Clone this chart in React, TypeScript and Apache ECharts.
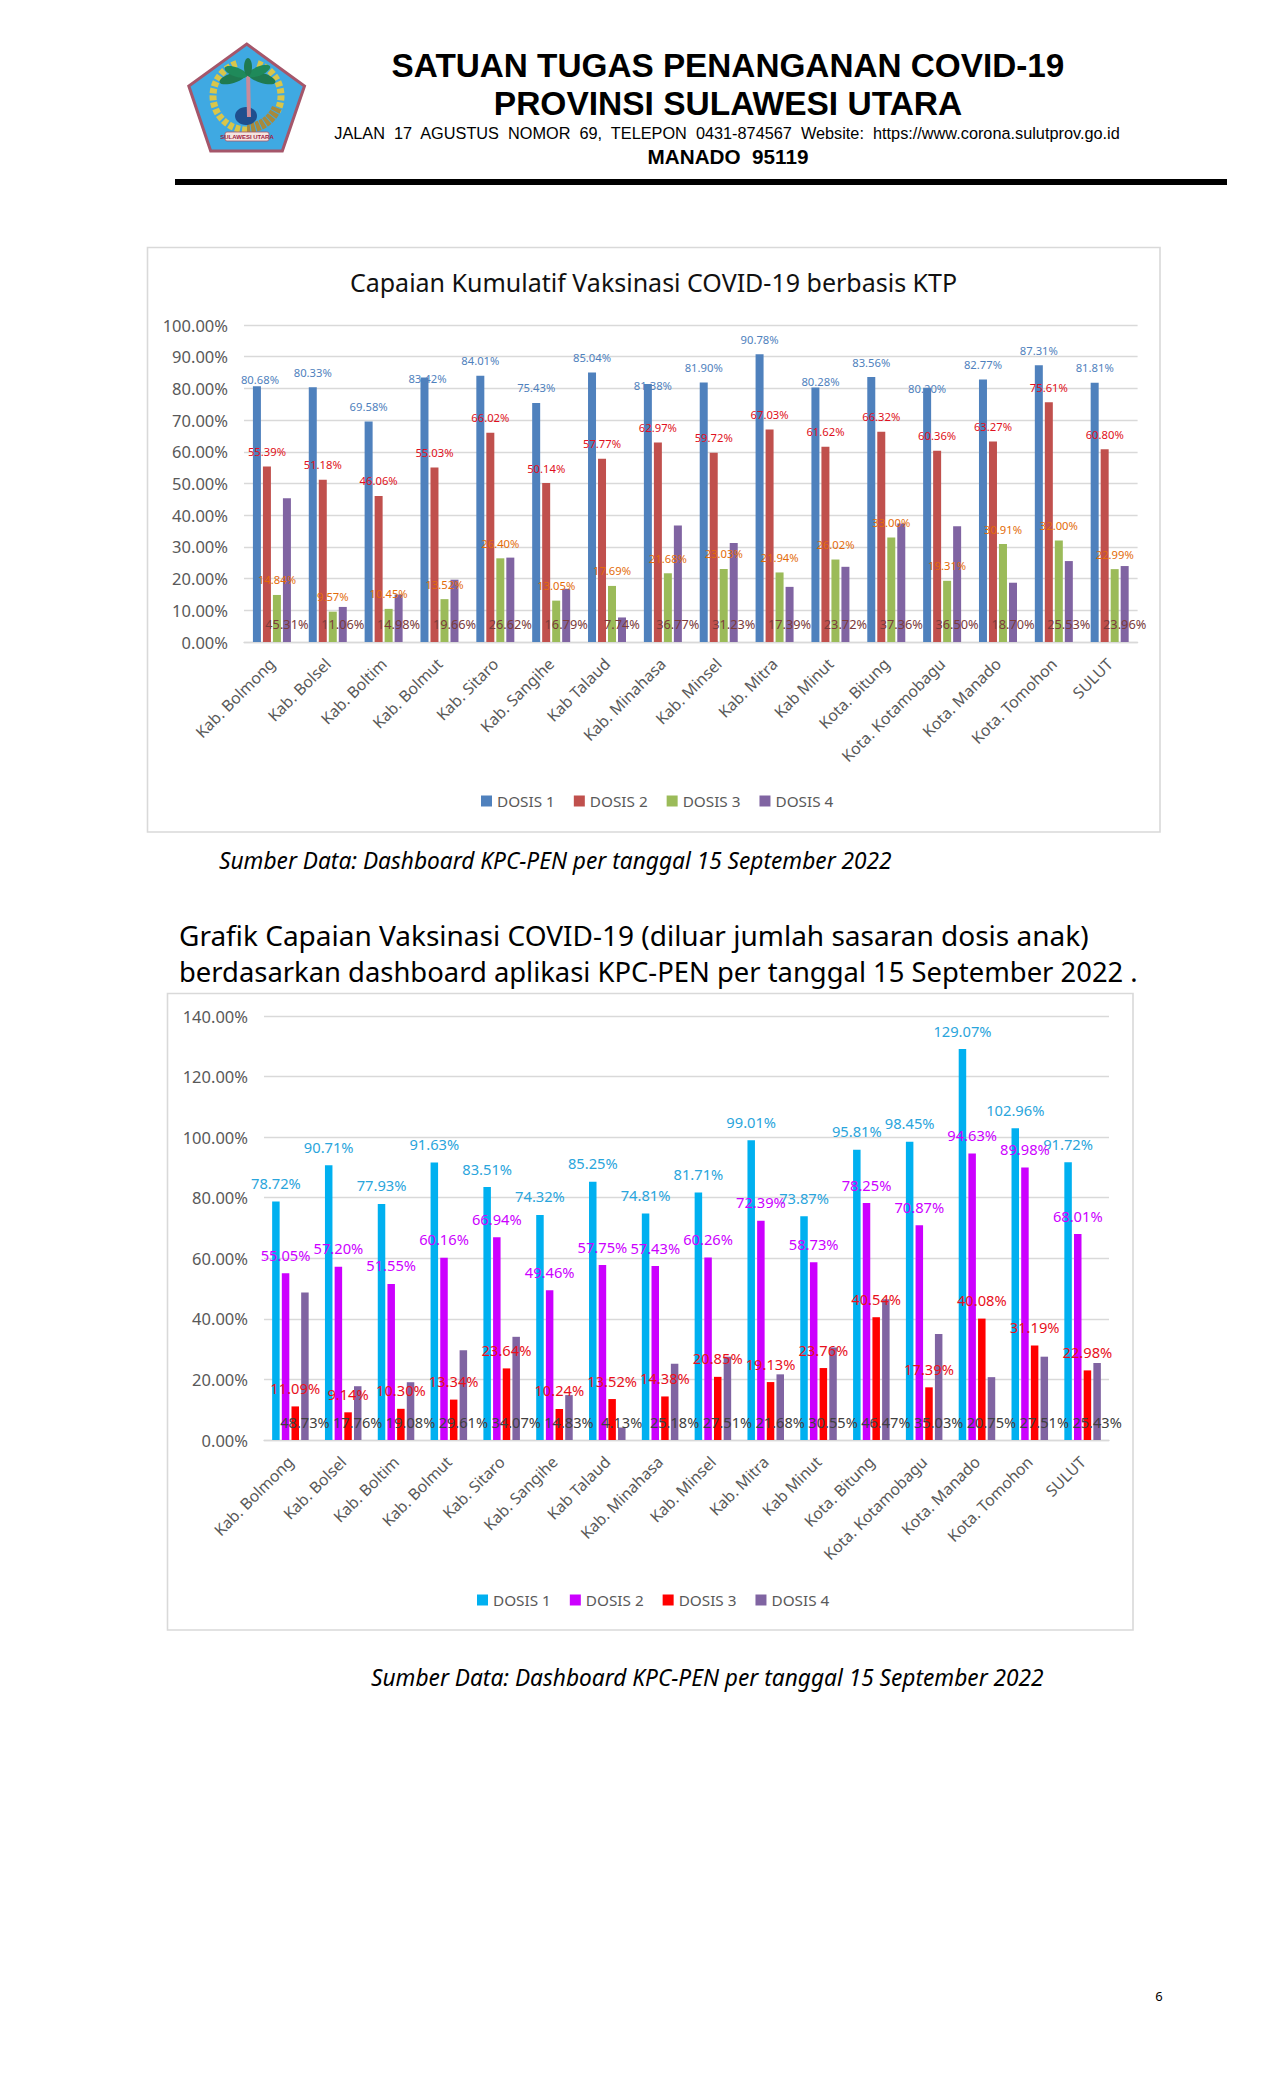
import React, { useEffect, useRef } from "react";
import * as echarts from "echarts";

const categories = ["Kab. Bolmong", "Kab. Bolsel", "Kab. Boltim", "Kab. Bolmut", "Kab. Sitaro", "Kab. Sangihe", "Kab Talaud", "Kab. Minahasa", "Kab. Minsel", "Kab. Mitra", "Kab Minut", "Kota. Bitung", "Kota. Kotamobagu", "Kota. Manado", "Kota. Tomohon", "SULUT"];
const seriesNames = ["DOSIS 1", "DOSIS 2", "DOSIS 3", "DOSIS 4"];

const ktpDosis1 = [80.68, 80.33, 69.58, 83.42, 84.01, 75.43, 85.04, 81.38, 81.90, 90.78, 80.28, 83.56, 80.20, 82.77, 87.31, 81.81];
const ktpDosis2 = [55.39, 51.18, 46.06, 55.03, 66.02, 50.14, 57.77, 62.97, 59.72, 67.03, 61.62, 66.32, 60.36, 63.27, 75.61, 60.80];
const ktpDosis3 = [14.84, 9.57, 10.45, 13.52, 26.40, 13.05, 17.69, 21.68, 23.03, 21.94, 26.02, 33.00, 19.31, 30.91, 32.00, 22.99];
const ktpDosis4 = [45.31, 11.06, 14.98, 19.66, 26.62, 16.79, 7.74, 36.77, 31.23, 17.39, 23.72, 37.36, 36.50, 18.70, 25.53, 23.96];

const kpcDosis1 = [78.72, 90.71, 77.93, 91.63, 83.51, 74.32, 85.25, 74.81, 81.71, 99.01, 73.87, 95.81, 98.45, 129.07, 102.96, 91.72];
const kpcDosis2 = [55.05, 57.20, 51.55, 60.16, 66.94, 49.46, 57.75, 57.43, 60.26, 72.39, 58.73, 78.25, 70.87, 94.63, 89.98, 68.01];
const kpcDosis3 = [11.09, 9.14, 10.30, 13.34, 23.64, 10.24, 13.52, 14.38, 20.85, 19.13, 23.76, 40.54, 17.39, 40.08, 31.19, 22.98];
const kpcDosis4 = [48.73, 17.76, 19.08, 29.61, 34.07, 14.83, 4.13, 25.18, 27.51, 21.68, 30.55, 46.47, 35.03, 20.75, 27.51, 25.43];

const FONT = '"Noto Sans", sans-serif';
const GRID = "#D9D9D9";
const AXIS_TEXT = "#595959";
const pct = (v: number) => v.toFixed(2) + "%";

// Hand-moved data labels of the first chart's DOSIS 1 series: index -> [dx, dy]
const ktpD1LabelShift: Record<number, number[]> = { 0: [3, 8], 3: [3, 16], 7: [5, 16], 10: [5, 9], 12: [0, 16] };

function barSeries(name: string, values: number[], color: string, labelColor: string, fontSize: number, axis: number, barWidth: number, barGap: string, position: string, distance: number, shift: Record<number, number[]> = {}) {
  return {
    type: "bar",
    name,
    xAxisIndex: axis,
    yAxisIndex: axis,
    barWidth,
    barGap,
    itemStyle: { color },
    data: values.map((value, i) => (shift[i] ? { value, label: { offset: shift[i] } } : { value })),
    label: {
      show: true,
      position,
      distance,
      color: labelColor,
      fontSize,
      fontFamily: FONT,
      textBorderWidth: 0,
      formatter: (p: any) => pct(p.value),
    },
  };
}

const xAxis = (gridIndex: number) => ({
  type: "category",
  gridIndex,
  data: categories,
  axisLine: { lineStyle: { color: GRID, width: 1.4 } },
  axisTick: { show: false },
  axisLabel: { rotate: 45, interval: 0, color: AXIS_TEXT, fontSize: 15.8, fontFamily: FONT, margin: 19 },
});

const yAxis = (gridIndex: number, max: number, interval: number) => ({
  type: "value",
  gridIndex,
  min: 0,
  max,
  interval,
  axisLine: { show: false },
  axisTick: { show: false },
  splitLine: { lineStyle: { color: GRID, width: 1.4 } },
  axisLabel: { color: AXIS_TEXT, fontSize: 16.5, fontFamily: FONT, margin: 16, formatter: pct },
});

const legend = (left: number, top: number, colors: string[]) => ({
  left,
  top,
  padding: 0,
  icon: "rect",
  itemWidth: 11,
  itemHeight: 11,
  itemGap: 19,
  selectedMode: false,
  textStyle: { color: AXIS_TEXT, fontSize: 15.3, fontFamily: FONT },
  data: seriesNames.map((name, i) => ({ name, itemStyle: { color: colors[i] } })),
});

const text = (x: number, y: number, t: string, font: any, align = "left") => ({
  type: "text",
  x,
  y,
  silent: true,
  style: { text: t, textAlign: align, textVerticalAlign: "middle", fill: "#000", fontFamily: FONT, ...font },
});

function logo() {
  const stroke = (s: any) => ({ fill: "none", ...s });
  const frond = (x: number, y: number, rx: number, ry: number, rotation: number, fill: string) => ({
    type: "ellipse", x, y, rotation, shape: { cx: 0, cy: 0, rx, ry }, style: { fill }, silent: true,
  });
  return [
    { type: "polygon", silent: true, shape: { points: [[246.7, 44], [304.5, 86], [282.3, 151], [210.7, 151], [188.8, 86]] }, style: { fill: "#3FA9E2", stroke: "#A5566A", lineWidth: 3 } },
    { type: "arc", silent: true, shape: { cx: 247, cy: 96, r: 34, startAngle: Math.PI * 0.5, endAngle: Math.PI * 1.42, clockwise: true }, style: stroke({ stroke: "#D9C64A", lineWidth: 7, lineDash: [5, 2] }) },
    { type: "arc", silent: true, shape: { cx: 247, cy: 96, r: 34, startAngle: -Math.PI * 0.4, endAngle: Math.PI * 0.15, clockwise: true }, style: stroke({ stroke: "#D9C64A", lineWidth: 7, lineDash: [5, 2] }) },
    { type: "arc", silent: true, shape: { cx: 247, cy: 96, r: 32, startAngle: Math.PI * 0.12, endAngle: Math.PI * 0.5, clockwise: true }, style: stroke({ stroke: "#A88A3C", lineWidth: 10, lineDash: [4, 1] }) },
    { type: "ellipse", silent: true, shape: { cx: 246, cy: 116, rx: 11, ry: 9 }, style: { fill: "#1F4F8E" } },
    { type: "line", silent: true, shape: { x1: 248, y1: 72, x2: 249, y2: 117 }, style: { stroke: "#C98A9A", lineWidth: 4 } },
    frond(233, 78, 14, 5, 0.3, "#1F7A50"),
    frond(262, 78, 14, 5, -0.3, "#1F7A50"),
    frond(236, 72, 12, 4.5, -0.35, "#1F8A5A"),
    frond(259, 71, 12, 4.5, 0.4, "#1F8A5A"),
    frond(248, 67, 4, 9, 0, "#1F7A50"),
    { type: "rect", silent: true, shape: { x: 225, y: 132, width: 44, height: 9, r: 2 }, style: { fill: "#F4E6E0", stroke: "#A5566A", lineWidth: 0.8 } },
    text(247, 136.5, "SULAWESI UTARA", { fontSize: 6, fill: "#A02040", fontWeight: "bold", fontFamily: '"Liberation Sans", sans-serif' }, "center"),
  ];
}

const ARIAL = '"Liberation Sans", sans-serif';

export default function App() {
  const ref = useRef<HTMLDivElement>(null);
  useEffect(() => {
    document.body.style.margin = "0";
    const chart = echarts.init(ref.current!, undefined, { renderer: "svg" });
    const ktpColors = ["#4F81BD", "#C0504D", "#9BBB59", "#8064A2"];
    const kpcColors = ["#00B0F0", "#CC00FF", "#FF0000", "#8064A2"];
    chart.setOption({
      animation: false,
      backgroundColor: "#fff",
      title: {
        text: "Capaian Kumulatif Vaksinasi COVID-19 berbasis KTP",
        left: 653.5,
        top: 269.5,
        textAlign: "center",
        padding: 0,
        textStyle: { color: "#111", fontWeight: "normal", fontSize: 25, fontFamily: FONT },
      },
      grid: [
        { left: 244, top: 325, width: 893.6, height: 317 },
        { left: 264, top: 1016, width: 845, height: 424 },
      ],
      xAxis: [xAxis(0), xAxis(1)],
      yAxis: [yAxis(0, 100, 10), yAxis(1, 140, 20)],
      legend: [legend(481, 793.5, ktpColors), legend(477, 1592.5, kpcColors)],
      graphic: [
        { type: "rect", silent: true, z: -10, shape: { x: 147.5, y: 247.5, width: 1012.5, height: 584.5 }, style: { fill: "#fff", stroke: GRID, lineWidth: 1.6 } },
        { type: "rect", silent: true, z: -10, shape: { x: 167.5, y: 993.5, width: 965.5, height: 636.5 }, style: { fill: "#fff", stroke: GRID, lineWidth: 1.6 } },
        ...logo(),
        text(728, 65, "SATUAN TUGAS PENANGANAN COVID-19", { fontSize: 33.3, fontWeight: "bold", fontFamily: ARIAL }, "center"),
        text(728, 103, "PROVINSI SULAWESI UTARA", { fontSize: 33.5, fontWeight: "bold", fontFamily: ARIAL }, "center"),
        text(727, 133, "JALAN  17  AGUSTUS  NOMOR  69,  TELEPON  0431-874567  Website:  https://www.corona.sulutprov.go.id", { fontSize: 16.3, fontFamily: ARIAL }, "center"),
        text(728, 156, "MANADO  95119", { fontSize: 20.7, fontWeight: "bold", fontFamily: ARIAL }, "center"),
        { type: "rect", silent: true, shape: { x: 175, y: 179, width: 1052, height: 6 }, style: { fill: "#000" } },
        text(219, 860, "Sumber Data: Dashboard KPC-PEN per tanggal 15 September 2022", { fontSize: 22.7, fontStyle: "italic" }),
        text(179, 935, "Grafik Capaian Vaksinasi COVID-19 (diluar jumlah sasaran dosis anak)", { fontSize: 28 }),
        text(179, 971, "berdasarkan dashboard aplikasi KPC-PEN per tanggal 15 September 2022 .", { fontSize: 27.4 }),
        text(371, 1677, "Sumber Data: Dashboard KPC-PEN per tanggal 15 September 2022", { fontSize: 22.7, fontStyle: "italic" }),
        text(1159, 1996, "6", { fontSize: 13 }, "center"),
      ],
      series: [
        barSeries("DOSIS 1", ktpDosis1, ktpColors[0], "#4F81BD", 11.25, 0, 8, "25%", "top", 9.5, ktpD1LabelShift),
        barSeries("DOSIS 2", ktpDosis2, ktpColors[1], "#E01020", 11.25, 0, 8, "25%", "top", 9.5),
        barSeries("DOSIS 3", ktpDosis3, ktpColors[2], "#E36C0A", 11.25, 0, 8, "25%", "top", 9.5),
        barSeries("DOSIS 4", ktpDosis4, ktpColors[3], "#7B3B3B", 12.75, 0, 8, "25%", "insideBottom", 11.5),
        barSeries("DOSIS 1", kpcDosis1, kpcColors[0], "#2AA5DC", 14.7, 1, 7.5, "29%", "top", 11),
        barSeries("DOSIS 2", kpcDosis2, kpcColors[1], "#CC00FF", 14.7, 1, 7.5, "29%", "top", 11),
        barSeries("DOSIS 3", kpcDosis3, kpcColors[2], "#E8101C", 14.7, 1, 7.5, "29%", "top", 11),
        barSeries("DOSIS 4", kpcDosis4, kpcColors[3], "#404040", 14.6, 1, 7.5, "29%", "insideBottom", 11),
      ],
    });
    return () => chart.dispose();
  }, []);
  return <div ref={ref} style={{ width: 1275, height: 2100 }} />;
}
